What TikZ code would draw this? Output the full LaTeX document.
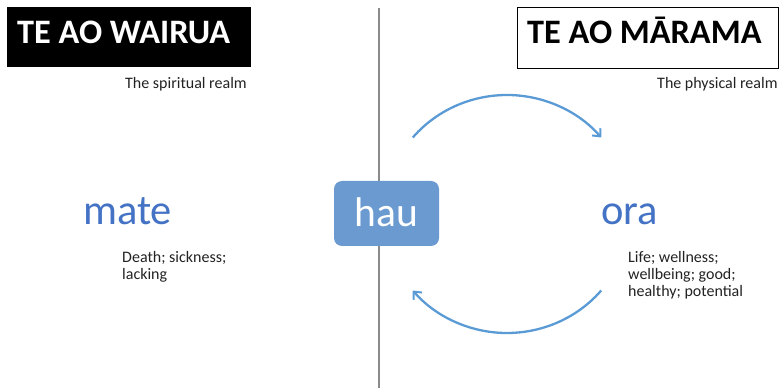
\documentclass[tikz,border=0pt]{standalone}
\usepackage{fontspec}
\setmainfont{Carlito}
\usetikzlibrary{arrows.meta}
\definecolor{arcblue}{HTML}{5B9BD5}
\definecolor{haublue}{HTML}{6A9AD0}
\definecolor{wordblue}{HTML}{4472C4}
\definecolor{divgray}{HTML}{8A8A8A}
\definecolor{smalltext}{HTML}{222222}
\tikzset{
  titlebox/.style={rectangle, inner sep=0pt, anchor=north west},
  titletext/.style={anchor=base west, inner sep=0pt, font=\fontsize{34.3}{38}\selectfont\bfseries},
  subtext/.style={anchor=base west, inner sep=0pt, text=smalltext, font=\fontsize{16}{17}\selectfont, align=left},
  bigword/.style={anchor=base west, inner sep=0pt, text=wordblue, font=\fontsize{42.5}{46}\selectfont},
  cyclearc/.style={draw=arcblue, line width=2.3pt, -{Straight Barb[length=6pt,width=11pt,line width=2pt]}},
}
\begin{document}
\begin{tikzpicture}[x=1pt,y=1pt]
\useasboundingbox (0,0) rectangle (779,388);
% divider
\coordinate (ltop) at (379,380);
\coordinate (lbot) at (379,0);
\draw[divgray, line width=1.2pt] (ltop) -- (lbot);
% title boxes
\node[titlebox, fill=black, minimum width=244pt, minimum height=60pt] (wbox) at (7,381) {};
\node[titletext, text=white] (wairua) at (17,344) {TE AO WAIRUA};
\node[titlebox, draw=black, line width=1pt, fill=white, minimum width=261pt, minimum height=61pt] (mbox) at (516.5,381) {};
\node[titletext, text=black] (marama) at (527,344) {TE AO MĀRAMA};
\node[subtext] (spirit) at (125,299) {The spiritual realm};
\node[subtext] (phys) at (657,299) {The physical realm};
% hau
\node[rectangle, rounded corners=8pt, fill=haublue, minimum width=105pt, minimum height=65pt, text=white,
      font=\fontsize{41.5}{44}\selectfont, text height=28pt, text depth=2pt, inner sep=0pt] (hau) at (386.5,174.5) {hau};
% words
\node[bigword] (mate) at (83,163) {mate};
\node[subtext] (matedesc) at (122,108.5) {Death; sickness;\\lacking};
\node[bigword] (ora) at (601,163) {ora};
\node[subtext] (oradesc) at (628,91) {Life; wellness;\\wellbeing; good;\\healthy; potential};
% cycle arcs
\coordinate (cc) at (507,174);
\draw[cyclearc] (cc) ++(140:123pt and 119pt) arc[start angle=140, end angle=40, x radius=123pt, y radius=119pt];
\draw[cyclearc] (cc) ++(-40:123pt and 119pt) arc[start angle=-40, end angle=-140, x radius=123pt, y radius=119pt];
\end{tikzpicture}
\end{document}
